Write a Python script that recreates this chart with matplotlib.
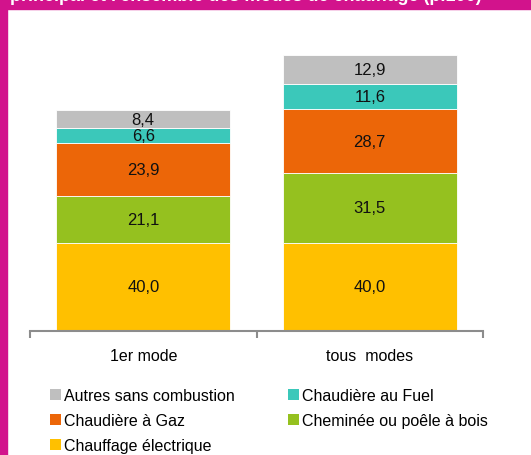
import matplotlib
matplotlib.use("Agg")
import matplotlib.pyplot as plt
from matplotlib.patches import Rectangle, Patch

plt.rcParams["font.family"] = ["Liberation Sans", "DejaVu Sans"]

categories = ["1er mode", "tous  modes"]
series = ["Chauffage électrique", "Cheminée ou poêle à bois", "Chaudière à Gaz",
          "Chaudière au Fuel", "Autres sans combustion"]
values = {
    "Chauffage électrique": [40.0, 40.0],
    "Cheminée ou poêle à bois": [21.1, 31.5],
    "Chaudière à Gaz": [23.9, 28.7],
    "Chaudière au Fuel": [6.6, 11.6],
    "Autres sans combustion": [8.4, 12.9],
}
colors = {
    "Chauffage électrique": "#FFC000",
    "Cheminée ou poêle à bois": "#95C11F",
    "Chaudière à Gaz": "#EC6608",
    "Chaudière au Fuel": "#3BC8BA",
    "Autres sans combustion": "#BFBFBF",
}
title = "principal et l'ensemble des modes de chauffage (p.100)"
magenta = "#D2138C"

fig = plt.figure(figsize=(5.31, 4.56), dpi=100)
ax = fig.add_axes([30 / 531, 1 - 332 / 456, 453 / 531, 292 / 456])

x = range(len(categories))
bottom = [0.0, 0.0]
for s in series:
    v = values[s]
    ax.bar(x, v, width=0.77, bottom=bottom, color=colors[s],
           edgecolor="white", linewidth=0.6)
    for xi, vi, b in zip(x, v, bottom):
        ax.text(xi, b + vi / 2, f"{vi:.1f}".replace(".", ","), ha="center",
                va="center", fontsize=12, color="#111111")
    bottom = [b + vi for b, vi in zip(bottom, v)]

ax.set_xlim(-0.5, 1.5)
ax.set_ylim(0, 132)
ax.set_yticks([])
for sp in ["top", "right", "left"]:
    ax.spines[sp].set_visible(False)
ax.spines["bottom"].set_color("#8C8C8C")
ax.spines["bottom"].set_linewidth(1.5)
ax.set_xticks(list(x))
ax.set_xticklabels(categories, fontsize=11.5)
ax.tick_params(axis="x", which="major", length=0, pad=12)
ax.set_xticks([-0.5, 0.5, 1.5], minor=True)
ax.tick_params(axis="x", which="minor", length=5, width=1.5, color="#8C8C8C")

# legend in row order of the original
order = ["Autres sans combustion", "Chaudière à Gaz", "Chauffage électrique",
         "Chaudière au Fuel", "Cheminée ou poêle à bois"]
handles = [Patch(facecolor=colors[s], edgecolor="none") for s in order]
fig.legend(handles, order, loc="upper left", bbox_to_anchor=(42 / 531, 1 - 381 / 456),
           ncol=2, frameon=False, fontsize=11.5, handlelength=0.7, handleheight=0.7,
           handletextpad=0.2, columnspacing=3.3, labelspacing=0.62, borderpad=0)

# magenta frame + cut-off title
fig.patches.append(Rectangle((0, 1 - 10 / 456), 1, 10 / 456, transform=fig.transFigure,
                             color=magenta, zorder=0))
fig.patches.append(Rectangle((0, 0), 7 / 531, 1, transform=fig.transFigure,
                             color=magenta, zorder=0))
fig.text(10 / 531, 1 - 1 / 456, title, color="white", fontsize=13, fontweight="bold",
         va="baseline", ha="left")

fig.savefig("out.png", dpi=100)
